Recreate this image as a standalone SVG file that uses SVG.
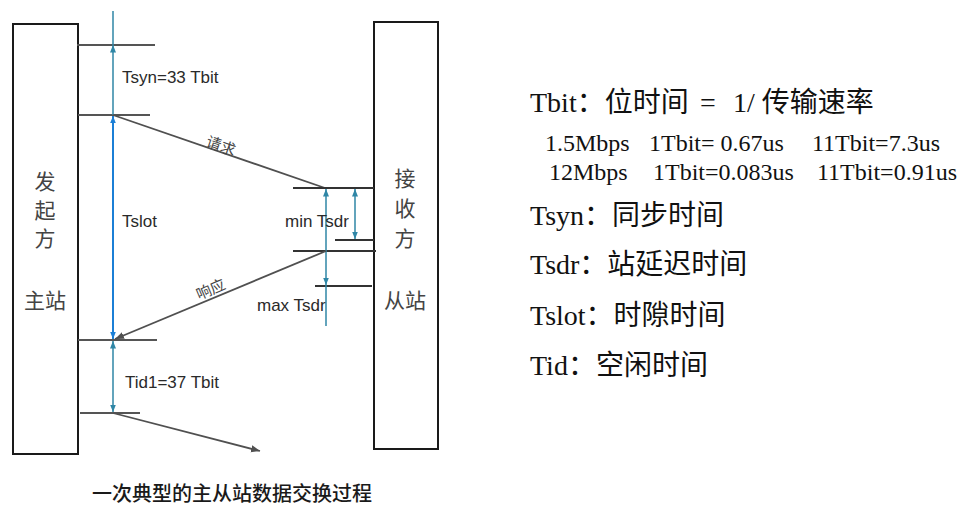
<svg xmlns="http://www.w3.org/2000/svg" width="975" height="509" viewBox="0 0 975 509">
<style>
.box{fill:#fff;stroke:#1a1a1a;stroke-width:2}
.tick{stroke:#333;stroke-width:2}
.tk2{stroke:#555;stroke-width:1.8}
.gl{stroke:#505050;stroke-width:1.8;fill:none}
.teal{stroke:#2f86a6;stroke-width:1.5;fill:none}
.blue{stroke:#1b7fd6;stroke-width:2;fill:none}
.lbl{font-family:"Liberation Sans","Noto Sans CJK SC",sans-serif;font-size:17px;fill:#2a2a2a}
.cn{font-family:"Noto Sans CJK SC",sans-serif;font-size:21px;fill:#444;text-anchor:middle}
.cnl{font-family:"Noto Sans CJK SC",sans-serif;font-size:15px;fill:#444}
.leg{font-family:"Liberation Serif","Noto Sans CJK SC",serif;font-size:28px;fill:#111}
.leg2{font-family:"Liberation Serif",serif;font-size:24px;fill:#111}
.cap{font-family:"Noto Sans CJK SC",sans-serif;font-size:20px;fill:#1a1a1a;text-anchor:middle;font-weight:500}
</style>
<defs>
<marker id="at" viewBox="0 0 10 10" refX="10" refY="5" markerWidth="5" markerHeight="5" orient="auto-start-reverse"><path d="M0,1 L10,5 L0,9 z" fill="#2f86a6"/></marker>
<marker id="ab" viewBox="0 0 10 10" refX="10" refY="5" markerWidth="3.5" markerHeight="3.5" orient="auto-start-reverse"><path d="M0,1 L10,5 L0,9 z" fill="#1b7fd6"/></marker>
<marker id="ag" viewBox="0 0 10 10" refX="10" refY="5" markerWidth="5" markerHeight="5" orient="auto"><path d="M0,1 L10,5 L0,9 z" fill="#505050"/></marker>
</defs>

<g id="master">
<rect class="box" x="13" y="24" width="65" height="430"/>
<text class="cn" x="45" y="189">发</text>
<text class="cn" x="45" y="218">起</text>
<text class="cn" x="45" y="246">方</text>
<text class="cn" x="45" y="308">主站</text>
</g>

<g id="slave">
<rect class="box" x="374" y="22" width="64" height="427"/>
<text class="cn" x="405" y="186">接</text>
<text class="cn" x="405" y="216">收</text>
<text class="cn" x="405" y="246">方</text>
<text class="cn" x="405" y="308">从站</text>
</g>

<g id="connectors">
<line class="tk2" x1="77" y1="45" x2="155" y2="45"/>
<line class="tk2" x1="78" y1="115" x2="150" y2="115"/>
<line class="tk2" x1="78" y1="340" x2="157" y2="340"/>
<line class="tk2" x1="80" y1="413" x2="140" y2="413"/>

<line class="teal" x1="113" y1="11" x2="113" y2="45"/>
<line class="teal" x1="113" y1="45" x2="113" y2="115" marker-start="url(#at)"/>
<line class="blue" x1="113" y1="116" x2="113" y2="339" marker-start="url(#ab)" marker-end="url(#ab)"/>
<line class="teal" x1="113" y1="341" x2="113" y2="412" marker-start="url(#at)" marker-end="url(#at)"/>

<line class="gl" x1="113" y1="115" x2="325" y2="188"/>
<line class="tick" x1="293" y1="188" x2="374" y2="188"/>
<line class="tick" x1="335" y1="240" x2="374" y2="240"/>
<line class="tick" x1="293" y1="251" x2="376" y2="251"/>
<line class="tick" x1="315" y1="286" x2="372" y2="286"/>

<line class="teal" x1="355" y1="189" x2="355" y2="239" marker-start="url(#at)" marker-end="url(#at)"/>
<line class="teal" x1="326" y1="189" x2="326" y2="285" marker-start="url(#at)" marker-end="url(#at)"/>
<line class="teal" x1="326" y1="285" x2="326" y2="326"/>

<line class="gl" x1="326" y1="251" x2="115" y2="339" marker-end="url(#ag)"/>
<line class="gl" x1="113" y1="413" x2="260" y2="451" marker-end="url(#ag)"/>
</g>

<g id="labels">
<text class="lbl" x="122" y="83">Tsyn=33 Tbit</text>
<text class="cnl" x="0" y="0" transform="translate(205,146) rotate(19)">请求</text>
<text class="lbl" x="122" y="227">Tslot</text>
<text class="lbl" x="285" y="227">min Tsdr</text>
<text class="cnl" x="0" y="0" transform="translate(199,300) rotate(-23)">响应</text>
<text class="lbl" x="257" y="311">max Tsdr</text>
<text class="lbl" x="125" y="388">Tid1=37 Tbit</text>
<text class="cap" x="232" y="501">一次典型的主从站数据交换过程</text>
</g>

<g id="legend">
<text class="leg" x="530" y="112">Tbit：位时间 <tspan x="700">=</tspan><tspan x="733">1/ 传输速率</tspan></text>
<text class="leg2" y="151"><tspan x="545">1.5Mbps</tspan><tspan x="649">1Tbit= 0.67us</tspan><tspan x="812">11Tbit=7.3us</tspan></text>
<text class="leg2" y="180"><tspan x="549">12Mbps</tspan><tspan x="653">1Tbit=0.083us</tspan><tspan x="817">11Tbit=0.91us</tspan></text>
<text class="leg" x="530" y="225">Tsyn：同步时间</text>
<text class="leg" x="530" y="274">Tsdr：站延迟时间</text>
<text class="leg" x="530" y="325">Tslot：时隙时间</text>
<text class="leg" x="530" y="375">Tid：空闲时间</text>
</g>
</svg>
